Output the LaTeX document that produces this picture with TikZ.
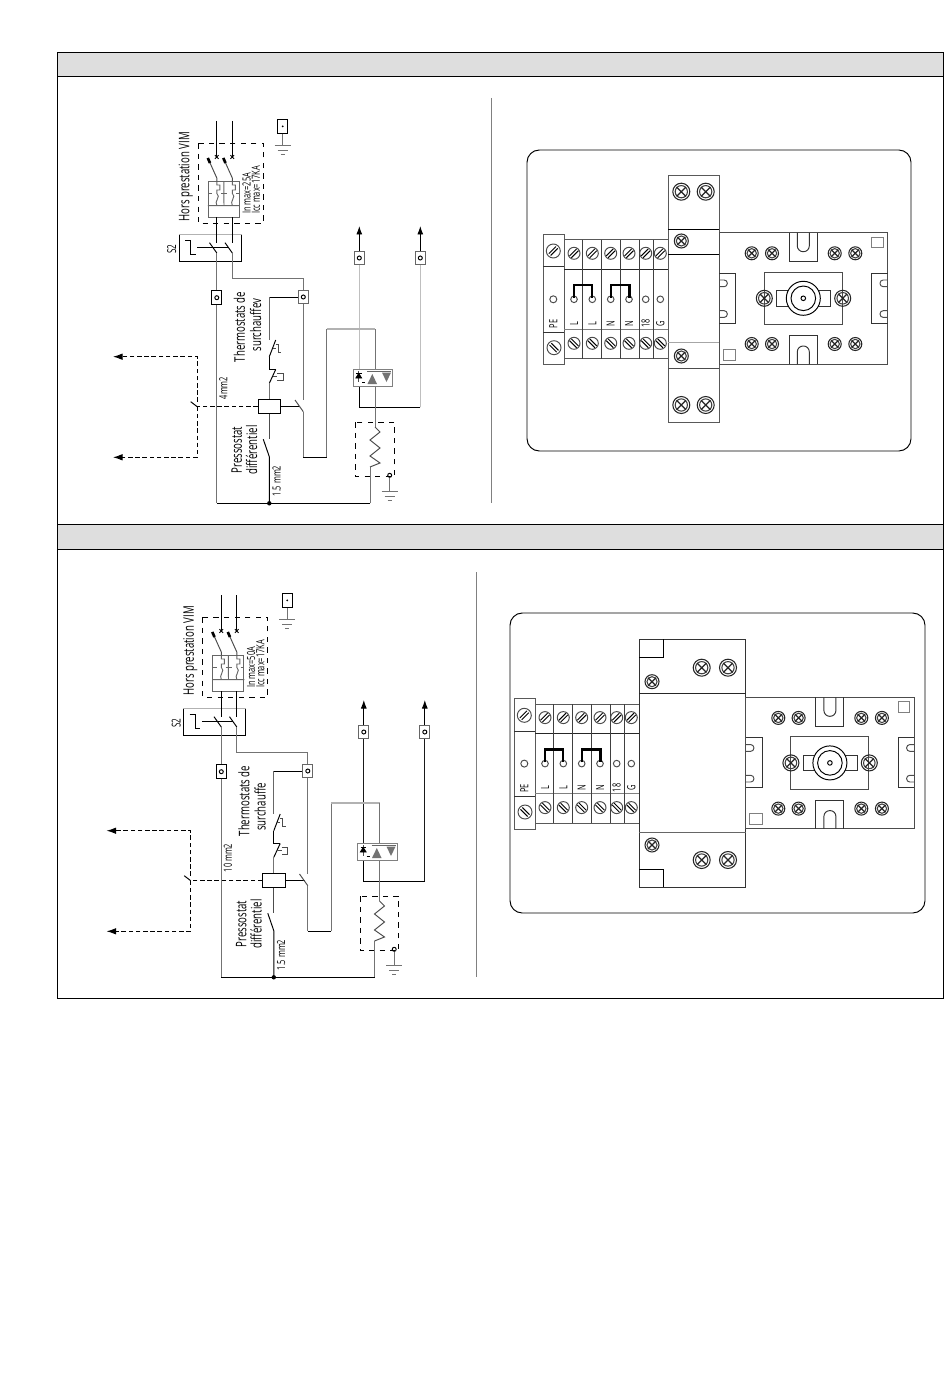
\documentclass[tikz,border=0pt]{standalone}
\usepackage{fontspec}
\setmainfont[FakeStretch=.66]{Open Sans}
\usetikzlibrary{arrows.meta}
\tikzset{
  slotscrew/.pic={
    \draw[black!70] (0,0) circle (#1);
    \draw[rotate=45] (-5,-1.3) -- (5,-1.3) (-5,1.3) -- (5,1.3);
  },
  slotscrewb/.pic={
    \draw[black!70] (0,0) circle (#1);
    \draw[rotate=-45] (-5,-1.3) -- (5,-1.3) (-5,1.3) -- (5,1.3);
  },
  crossscrew/.pic={
    \draw[black!85,line width=.6pt] (0,0) circle (#1);
    \draw[black!75,line width=.6pt] (0,0) circle (.72*#1);
    \draw[black!85,line width=.7pt] (-.55*#1,-.55*#1) -- (.55*#1,.55*#1) (-.55*#1,.55*#1) -- (.55*#1,-.55*#1);
  },
  earth/.pic={
    \draw[black!55] (-8,0) -- (8,0) (-5,5) -- (5,5) (-2,9) -- (2,9);
  }
}
\begin{document}
\begin{tikzpicture}[x=.02cm,y=-.02cm,line width=.55pt]
   \useasboundingbox (0,0) rectangle (950,1378);
   \tikzstyle{term}=[draw,fill=white,minimum width=.2cm,minimum height=.27cm,inner sep=0pt]
   \tikzstyle{gwire}=[draw=black!55]
   \tikzstyle{dwire}=[dash pattern=on 2.6pt off 1.5pt]
   \tikzstyle{rotlab}=[rotate=90,inner sep=0pt,font=\fontsize{8.3}{8.3}\selectfont]
   \tikzstyle{smallab}=[rotate=90,inner sep=0pt,font=\fontsize{6.4}{6.4}\selectfont]
   \draw[fill=black!13] (57,52) rectangle (943,76);
   \draw[fill=black!13] (57,524) rectangle (943,549);
   \draw (57,52) rectangle (943,998);
   % wiring diagrams
   \foreach \dx/\dy/\dl/\dv/\inmax/\surch/\surchy/\wsize/\wy/\cola/\wla in {0/0/0/491/25A/surchauffev/325/4mm2/388/black!25/.9pt,4.5/474/-11/471.5/50A/surchauffe/333/{10 mm2}/384/black!90/.55pt} {
   \begin{scope}[shift={(\dx,\dy)}]
     \draw[black!50] (\dv,98) -- (\dv,503);
     \node[rotlab] (hors) at (185.7,177) {Hors prestation VIM};
     \node[smallab] (inm) at (246.7,193.5) {In max=\inmax};
     \node[smallab] (icc) at (256,190) {Icc max=17KA};
     \node[smallab,font=\fontsize{7}{7}\selectfont] (s2lab) at (171.7,249) {S2};
     \node[smallab] (wlab) at (223.3,\wy) {\wsize};
     \node[smallab] (mmlab) at (276.7,481) {1.5 mm2};
     \node[rotlab] (prA) at (236.7,450) {Pressostat};
     \node[rotlab] (prB) at (251.7,450) {différentiel};
     \node[rotlab] (thA) at (239.5,327) {Thermostats de};
     \node[rotlab] (thB) at (255.5,\surchy) {\surch};
     % boxes
     \draw[dashed] (198.3,143.3) rectangle (263.3,223.3);
     \node[draw=black!60,minimum width=.62cm,minimum height=.712cm,inner sep=0pt] (mcb) at (223.8,199.5) {};
     \draw[black!60] (mcb.north) -- (224,205.7) (mcb.west |- 205.7,205.7) -- (mcb.east |- 205.7,205.7);
     \draw[black!60] (208.3,193.3) -- (212,193.3) (221,193.3) -- (227,193.3) (236,193.3) -- (239.3,193.3);
     \node[draw,minimum width=1.24cm,minimum height=.534cm,inner sep=0pt] (s2) at (210.3,248.3) {};
     \draw[black!30,line width=.9pt] (s2.north west) -- (s2.north east);
     \node[draw,minimum width=.45cm,minimum height=.28cm,inner sep=0pt] (coil) at (269.5,406.3) {};
     \node[draw=black!50,fill=white,minimum width=.79cm,minimum height=.354cm,inner sep=0pt] (alarm) at (373,377.9) {};
     \draw[dashed] (355.7,422.3) rectangle (394.3,476.7);
     % terminals
     \node[term] (aux) at (282.7,126.3) {};
     \node[term] (t1) at (216.8,297.7) {};
     \node[term,draw=black!60] (t2) at (303.3,297) {};
     \node[term,draw=black!60] (t3) at (359.3,258) {};
     \node[term,draw=black!60] (t4) at (420.3,258) {};
     \fill (aux.center) circle (1);
     \foreach \t in {t1,t2,t3,t4} {\draw (\t.center) circle (2);}
     % breaker
     \foreach \x/\n in {216.8/A,232.3/B} {
       \coordinate (in\n) at (\x,121);
       \coordinate (cr\n) at (\x,157);
       \coordinate (arm\n) at (\x,178);
       \coordinate (tip\n) at ({\x-9},158);
       \coordinate (mcbin\n) at (\x,181.7);
       \coordinate (mcbout\n) at (\x,217.3);
       \coordinate (csa\n) at (\x,243);
       \coordinate (csb\n) at (\x,253);
       \draw (in\n) -- (cr\n);
       \draw (\x-1.8,155.2) -- (\x+1.8,158.8) (\x-1.8,158.8) -- (\x+1.8,155.2);
       \draw[black!70] (tip\n) -- (arm\n) -- (mcbin\n);
       \draw[line width=1.5pt] (tip\n) -- ({\x-6.8},163);
       \draw[black!60] (mcbin\n) -- (\x,185) -- (\x+3,185) -- (\x+3,190) -- (\x,190) -- (\x,193.3)
          .. controls (\x+4.5,197) and (\x-3,201) .. (\x,205.7);
       \draw (mcbout\n) -- (csa\n);
       \draw (csb\n) -- ({\x-7.3},242.7);
     }
     % S2
     \coordinate (s2lnk) at (197.3,247.3);
     \coordinate (s2end) at (228.3,247.3);
     \draw (185,240.7) -- (190.7,240.7) -- (190.7,254.3) -- (195.7,254.3);
     \draw (s2lnk) -- (s2end);
     % wires to terminals
     \coordinate (b2) at (232.3,278.3);
     \coordinate (b3) at (303.3,278.3);
     \draw[gwire] (csbA) -- (t1.north);
     \draw[gwire] (csbB) -- (b2) -- (b3) -- (t2.north);
     \coordinate (rail) at (216.8,503.3);
     \coordinate (jct) at (269.3,503.3);
     \coordinate (rend) at (370,503.3);
     \coordinate (htrb) at (370,467);
     \draw[gwire] (t1.south) -- (rail);
     \draw (rail) -- (jct) -- (rend);
     \draw[gwire] (rend) -- (htrb);
     \fill[black] (jct) circle (2.2);
     % arrows up
     \coordinate (up3) at (359.3,226);
     \coordinate (up4) at (420.3,226);
     \draw[-{Latex[length=1.7mm,width=1.2mm]}] (t3.north) -- (up3);
     \draw[-{Latex[length=1.7mm,width=1.2mm]}] (t4.north) -- (up4);
     \coordinate (b4) at (420.3,407.3);
     \coordinate (b5) at (359.3,407.3);
     \draw[color=\cola,line width=\wla] (t3.south) -- (t3.south |- alarm.north);
     \draw[color=\cola,line width=\wla] (t4.south) -- (b4);
     \draw (b4) -- (b5) -- (b5 |- alarm.south);
     % thermostats
     \coordinate (th1) at (269.3,297.7);
     \coordinate (th2) at (269.3,340);
     \coordinate (th3) at (269.3,356.7);
     \coordinate (th4) at (269.3,369);
     \coordinate (th5) at (269.3,383.3);
     \draw (t2.west) -- (th1 |- t2.west);
     \draw[black!60] (th1 |- t2.west) -- (th2);
     \draw (th3) -- (275.7,340);
     \draw (th3) -- (th4) -- (275.7,369);
     \draw (th5) -- (275.7,369.5);
     \draw[gwire] (th5) -- (coil.north -| th5);
     \draw[black!70] (272.5,348) -- (275.5,348) (275.5,344) -- (278,344) -- (278,352) -- (281,352);
     \draw[black!70] (272.5,376) -- (277,376) (277,373) -- (283,373) -- (283,380) -- (277,380);
     % pressostat and contact
     \coordinate (pr1) at (269.3,439.3);
     \coordinate (pr2) at (269.3,456.7);
     \coordinate (pr3) at (263.3,439.3);
     \draw[black!70] (coil.south -| pr1) -- (pr1);
     \draw (pr3) -- (pr2) -- (jct);
     \coordinate (k1) at (300,406.7);
     \coordinate (k2) at (295,400);
     \coordinate (k3) at (303.3,411.7);
     \coordinate (k4) at (303.3,457.3);
     \coordinate (k5) at (326.7,457.3);
     \coordinate (k6) at (326.7,329);
     \coordinate (k7) at (375,329);
     \coordinate (htrt) at (375,427);
     \draw (coil.east |- k1) -- (k1);
     \draw[black!70] (k2) -- (k3);
     \draw[gwire] (t2.south) -- (303.3,400);
     \draw[gwire] (k3) -- (k4);
     \draw (k4) -- (k5);
     \draw[gwire] (k5) -- (k6);
     \draw[black!30,line width=.9pt] (k6) -- (k7);
     \draw[black!55] (k7) -- (alarm.north -| k7);
     \draw[black!55] (alarm.south -| k7) -- (htrt);
     \draw[black!70] (htrt) -- (380,432) -- (370,440) -- (380,448) -- (370,456) -- (380,463) -- (htrb);
     % relay output
     \draw[black!70] (358.7,371) -- (358.7,382);
     \filldraw (356,378) -- (361.5,378) -- (358.7,373.5) -- cycle;
     \draw (356,373.5) -- (361.5,373.5) (362,382) -- (365,382);
     \draw[black!60] (367,371.7) -- (391,371.7);
     \fill[black!55] (367.5,384) -- (377,384) -- (372.3,374) -- cycle;
     \fill[black!55] (382,372.5) -- (391,372.5) -- (386.5,382) -- cycle;
     % earth
     \coordinate (e1) at (282.7,145);
     \draw[gwire] (aux.south) -- (e1);
     \path (e1) pic {earth};
     \node[draw,circle,minimum size=.08cm,inner sep=0pt] (e2) at (389.7,475.3) {};
     \coordinate (e3) at (389.7,491.7);
     \draw[gwire] (e2) -- (e3);
     \path (e3) pic {earth};
     % dashed contact
     \coordinate (dk) at (197.2+\dl,406.7);
     \coordinate (dk1) at (190.7+\dl,401.7);
     \coordinate (dk2) at (197.2+\dl,402);
     \coordinate (du1) at (197.2+\dl,356.7);
     \coordinate (du2) at (113+\dl,356.7);
     \coordinate (dd1) at (197.2+\dl,457.3);
     \coordinate (dd2) at (113+\dl,457.3);
     \draw[dwire] (coil.west |- dk) -- (dk);
     \draw (dk) -- (dk1);
     \draw[dwire,-{Latex[length=1.9mm,width=1.3mm]}] (dk2) -- (du1) -- (du2);
     \draw[dwire,-{Latex[length=1.9mm,width=1.3mm]}] (dk) -- (dd1) -- (dd2);
   \end{scope}
   }
   % casings
   \draw[rounded corners=7pt] (527,150) rectangle (911,451);
   \draw[rounded corners=7pt] (510,613) rectangle (925,913);
   % terminal strips
   \foreach \sx/\sy in {0/0,-29/464.3} {
   \begin{scope}[shift={(\sx,\sy)}]
     \draw[black!65] (543.3,234) rectangle (564.3,364.7);
     \draw[black!65] (564.3,239.7) rectangle (668.3,358.7);
     \draw[black!80] (543.3,266.7) -- (564.3,266.7) (543.3,332.3) -- (564.3,332.3);
     \draw[black!85] (564.3,269.3) -- (668.3,269.3);
     \draw[black!50] (564.3,329) -- (668.3,329);
     \foreach \x in {582.7,601.3,620,639.3,653.3} {\draw[black!75] (\x,239.7) -- (\x,358.7);}
     \path (553.3,251) pic {slotscrew=7};
     \path (554,347.7) pic {slotscrewb=7};
     \draw[black!70] (553.3,299.3) circle (3.5);
     \node[smallab] (pe) at (553.3,324) {PE};
     \foreach \x/\lab in {574/L,592.3/L,610.7/N,629/N,645.7/18,660.3/G} {
       \path (\x,253.3) pic {slotscrew=6};
       \path (\x,343.3) pic {slotscrewb=6};
       \draw[black!70] (\x,299.3) circle (3.3);
       \node[smallab] (lab\x) at (\x,323.5) {\lab};
     }
     \draw[line width=1.3pt] (574,298) -- (574,285.3) -- (592.3,285.3) -- (592.3,298);
     \draw[line width=1.3pt] (610.7,298) -- (610.7,285.3) -- (629.5,285.3) -- (629.5,298);
   \end{scope}
   }
   % breaker blocks
   \draw[black!65,fill=white] (668.3,175) rectangle (719.3,422.3);
   \draw (668.3,229.3) -- (719.3,229.3) (668.3,254.3) -- (719.3,254.3);
   \draw[black!35] (668.3,342.7) -- (719.3,342.7);
   \draw[black!70] (668.3,368.3) -- (719.3,368.3);
   \foreach \x/\y in {681.3/191.7,705.7/191.7,681.3/405,705.7/405} {\path (\x,\y) pic {crossscrew=8.5};}
   \path (681.3,241) pic {crossscrew=7};
   \path (681.3,356) pic {crossscrew=7};
   \draw[black!80,fill=white] (639.3,639.3) rectangle (745.7,887.3);
   \draw[black!85] (639.3,693.3) -- (745.7,693.3);
   \draw[black!60] (639.3,832.7) -- (745.7,832.7);
   \draw (639.3,657.7) -- (663.7,657.7) -- (663.7,639.3) (639.3,869) -- (663.7,869) -- (663.7,887.3);
   \foreach \x/\y in {701.7/667.7,728/667.7,701.7/860,728/860} {\path (\x,\y) pic {crossscrew=8.5};}
   \path (652,681.7) pic {crossscrew=7};
   \path (652,845) pic {crossscrew=7};
   % bases
   \foreach \sx/\sy in {0/0,26.6/464.6} {
   \begin{scope}[shift={(\sx,\sy)}]
     \draw[black!70] (719.3,232.7) rectangle (887.7,364.3);
     \draw[black!80] (789.3,232.7) -- (789.3,261.7) -- (817.3,261.7) -- (817.3,232.7);
     \draw[black!80] (789.3,364.3) -- (789.3,335.7) -- (817.3,335.7) -- (817.3,364.3);
     \draw[black!80,rounded corners=3.3pt] (797.3,232.7) -- (797.3,251.7) -- (809.3,251.7) -- (809.3,232.7);
     \draw[black!80,rounded corners=3.3pt] (797.3,364.3) -- (797.3,346) -- (809.3,346) -- (809.3,364.3);
     \foreach \x in {751.7,772,834.7,855.3} {
       \path (\x,253.3) pic {crossscrew=6.5};
       \path (\x,344) pic {crossscrew=6.5};
     }
     \draw[black!50] (871.7,237.3) rectangle (883.3,247.7);
     \draw[black!50] (723.3,349.3) rectangle (735.7,360);
     \draw[black!70] (764.3,272.3) rectangle (842.3,324.7);
     \draw[black!80] (776.7,290.7) rectangle (790,306) (817,290.7) rectangle (830.7,306);
     \draw[fill=white] (803.3,298.3) circle (17);
     \draw (803.3,298.3) circle (12.3);
     \draw (803.3,298.3) circle (2.3);
     \path (764.3,298.3) pic {crossscrew=8};
     \path (842.7,298.3) pic {crossscrew=8};
     \draw[black!80] (719.3,273.3) -- (735.7,273.3) -- (735.7,323.3) -- (719.3,323.3);
     \draw[black!80] (887.7,273.3) -- (871.7,273.3) -- (871.7,323.3) -- (887.7,323.3);
     \draw[black!70,rounded corners=1.8pt] (719.3,280) -- (727.3,280) -- (727.3,286.7) -- (719.3,286.7);
     \draw[black!70,rounded corners=1.8pt] (719.3,310.7) -- (727.3,310.7) -- (727.3,317.4) -- (719.3,317.4);
     \draw[black!70,rounded corners=1.8pt] (887.7,280) -- (880,280) -- (880,286.7) -- (887.7,286.7);
     \draw[black!70,rounded corners=1.8pt] (887.7,310.7) -- (880,310.7) -- (880,317.4) -- (887.7,317.4);
   \end{scope}
   }
\end{tikzpicture}
\end{document}
